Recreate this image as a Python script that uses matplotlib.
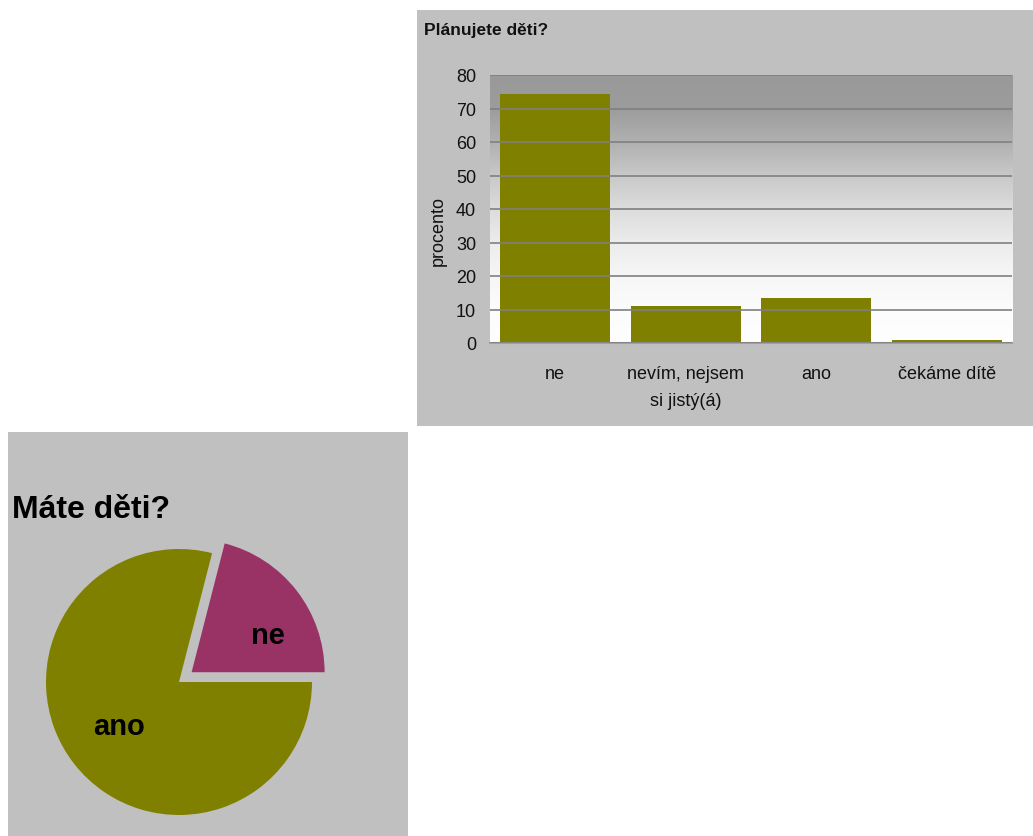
import numpy as np
import matplotlib.pyplot as plt
from matplotlib.patches import Rectangle
from matplotlib.colors import LinearSegmentedColormap

plt.rcParams['font.family'] = ['Liberation Sans', 'DejaVu Sans']

# Plánujete děti? (procento)
plan_labels = ['ne', 'nevím, nejsem\nsi jistý(á)', 'ano', 'čekáme dítě']
plan_values = [74.3, 11.1, 13.5, 1.0]

# Máte děti?
have_labels = ['ne', 'ano']
have_values = [21, 79]
have_colors = ['#993366', '#808000']

W, H = 1033, 837
fig = plt.figure(figsize=(W / 100, H / 100), dpi=100)
fig.patch.set_facecolor('white')


def fx(px):
    return px / W


def fy(py):
    return 1 - py / H


# panel backgrounds
fig.patches.append(Rectangle((fx(417), fy(427)), fx(616), (427 - 11) / H,
                             transform=fig.transFigure, facecolor='#c0c0c0',
                             edgecolor='none', zorder=-5))
fig.patches.append(Rectangle((fx(8), fy(837)), fx(400), (837 - 433) / H,
                             transform=fig.transFigure, facecolor='#c0c0c0',
                             edgecolor='none', zorder=-5))

# --- bar chart ---
ax = fig.add_axes([fx(490), fy(344), fx(1012 - 490), (344 - 76) / H])
ax.set_zorder(2)
ax.set_facecolor('none')
x = np.arange(len(plan_labels))
ax.set_xlim(-0.5, len(plan_labels) - 0.5)
ax.set_ylim(0, 80)
grad = np.linspace(0, 1, 256).reshape(-1, 1)
cmap = LinearSegmentedColormap.from_list(
    'bg', ['#fefefe', '#fcfcfc', '#f6f6f6', '#ececec', '#dcdcdc',
           '#c8c8c8', '#b0b0b0', '#9c9c9c', '#999999'])
ax.imshow(grad, extent=[-0.5, len(plan_labels) - 0.5, 0, 80], origin='lower',
          aspect='auto', cmap=cmap, zorder=0)
ax.set_yticks(np.arange(0, 81, 10))
ax.yaxis.grid(True, color='#808080', linewidth=1.2, zorder=1)
ax.set_axisbelow(False)
ax.bar(x, plan_values, width=0.84, color='#808000', zorder=2)
ax.set_xticks(x)
ax.set_xticklabels(plan_labels, fontsize=13, color='#111111', linespacing=1.75)
ax.tick_params(axis='both', length=0, labelsize=13, colors='#111111')
ax.tick_params(axis='x', pad=16)
ax.tick_params(axis='y', pad=10)
for s in ['top', 'right', 'left']:
    ax.spines[s].set_visible(False)
ax.spines['bottom'].set_color('#a0a0a0')
ax.spines['bottom'].set_linewidth(1.5)
ax.set_ylabel('procento', fontsize=13, color='#111111')
ax.yaxis.set_label_coords((447 - 490) / (1012 - 490), (344 - 231) / (344 - 76))
fig.text(fx(424), fy(30), 'Plánujete děti?', fontsize=12.5, fontweight='bold',
         va='center', ha='left', color='#111111')

# --- pie chart ---
r = 133
cx, cy = 179, 683
half = 1.4
pax = fig.add_axes([fx(cx - r * half), fy(cy + r * half), fx(2 * r * half),
                    2 * r * half / H])
pax.set_zorder(2)
wedges, texts = pax.pie(have_values, labels=have_labels, colors=have_colors,
                        startangle=0, counterclock=True, explode=[0.12, 0],
                        labeldistance=0.62, radius=1,
                        textprops=dict(fontsize=21, fontweight='bold', color='black'),
                        wedgeprops=dict(linewidth=0))
pax.set_xlim(-half, half)
pax.set_ylim(-half, half)
pax.set_aspect('equal')
pax.axis('off')
label_pos = [(0.669, 0.353), (-0.451, -0.33)]
for t, pos in zip(texts, label_pos):
    t.set_position(pos)
    t.set_ha('center')
    t.set_va('center')
fig.text(fx(12), fy(510), 'Máte děti?', fontsize=23, fontweight='bold',
         va='center', ha='left', color='black')

fig.savefig('out.png', dpi=100)
